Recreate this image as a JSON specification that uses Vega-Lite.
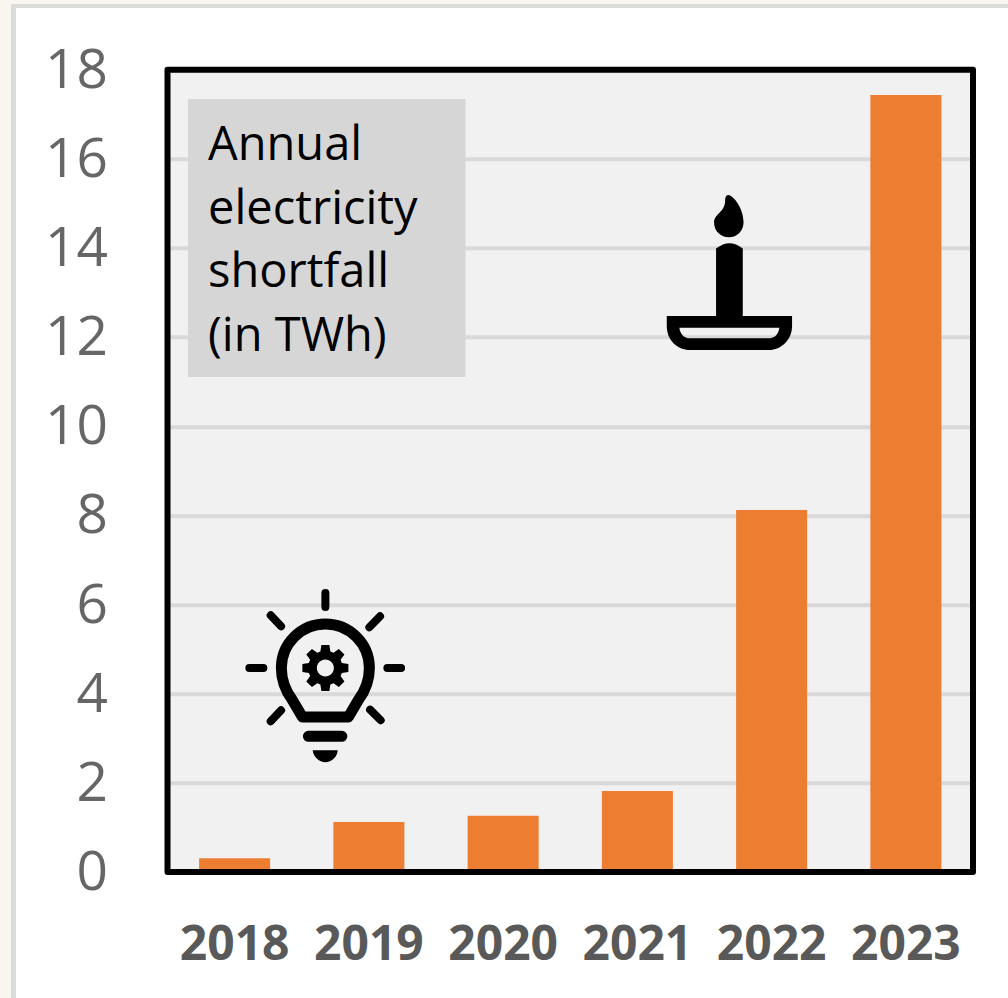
{
  "$schema": "https://vega.github.io/schema/vega-lite/v6.json",
  "width": 805.5,
  "height": 802.3,
  "autosize": "none",
  "padding": {"left": 167.5, "top": 69.7, "right": 35, "bottom": 126},
  "background": "#ffffff",
  "view": {"fill": "#f1f1f1", "stroke": null},
  "datasets": {
    "shortfall": [
      {"year": "2018", "twh": 0.31},
      {"year": "2019", "twh": 1.12},
      {"year": "2020", "twh": 1.26},
      {"year": "2021", "twh": 1.82},
      {"year": "2022", "twh": 8.12},
      {"year": "2023", "twh": 17.43}
    ],
    "edges": [
      {"part": "outer", "a": -1.2477, "b": -1.1657, "lo": -2.827, "hi": 19.565},
      {"part": "outer", "a": -1.2477, "b": 6.2607, "lo": 19.475, "hi": 19.565},
      {"part": "inner", "a": -1.1657, "b": -1.1285, "lo": -2.827, "hi": 19.475},
      {"part": "inner", "a": -1.1657, "b": 6.2607, "lo": 19.385, "hi": 19.475}
    ],
    "caption": [
      {"line": "Annual", "a": 0.3017, "v": 16.29},
      {"line": "electricity", "a": 0.3017, "v": 14.85},
      {"line": "shortfall", "a": 0.3017, "v": 13.44},
      {"line": "(in TWh)", "a": 0.3017, "v": 12.0}
    ]
  },
  "resolve": {"scale": {"x": "independent"}},
  "layer": [
    {
      "data": {"name": "edges"},
      "mark": {"type": "rect"},
      "encoding": {
        "x": {"field": "a", "type": "quantitative", "scale": {"domain": [0, 6]}, "axis": null},
        "x2": {"field": "b"},
        "y": {"field": "lo", "type": "quantitative", "scale": {"domain": [0, 18], "nice": false}},
        "y2": {"field": "hi"},
        "color": {"field": "part", "type": "nominal", "scale": {"domain": ["outer", "inner"], "range": ["#f9f6f0", "#dcdcdc"]}, "legend": null}
      }
    },
    {
      "data": {"name": "shortfall"},
      "mark": {"type": "bar", "color": "#ed7d31"},
      "encoding": {
        "x": {
          "field": "year",
          "type": "nominal",
          "scale": {"paddingInner": 0.471, "paddingOuter": 0.2355},
          "axis": {
            "title": null,
            "orient": "bottom",
            "domain": false,
            "ticks": false,
            "grid": false,
            "labelAngle": 0,
            "labelFont": "Open Sans",
            "labelFontWeight": "bold",
            "labelFontSize": 48,
            "labelColor": "#595959",
            "labelPadding": 49,
            "labelOverlap": false
          }
        },
        "y": {
          "field": "twh",
          "type": "quantitative",
          "scale": {"domain": [0, 18], "nice": false},
          "axis": {
            "title": null,
            "values": [0, 2, 4, 6, 8, 10, 12, 14, 16, 18],
            "domain": false,
            "ticks": false,
            "grid": true,
            "gridColor": "#d9d9d9",
            "gridWidth": 4,
            "labelFont": "Open Sans",
            "labelFontSize": 55,
            "labelColor": "#666666",
            "labelPadding": 60,
            "labelOffset": 0.5
          }
        }
      }
    },
    {
      "data": {"values": [{"a0": 0.1527, "a1": 2.2197, "v0": 11.106, "v1": 17.343}]},
      "mark": {"type": "rect", "color": "#d6d6d6"},
      "encoding": {
        "x": {"field": "a0", "type": "quantitative", "scale": {"domain": [0, 6]}, "axis": null},
        "x2": {"field": "a1"},
        "y": {"field": "v0", "type": "quantitative", "scale": {"domain": [0, 18], "nice": false}},
        "y2": {"field": "v1"}
      }
    },
    {
      "data": {"name": "caption"},
      "mark": {"type": "text", "align": "left", "baseline": "middle", "font": "Open Sans", "fontSize": 47, "color": "#000000"},
      "encoding": {
        "x": {"field": "a", "type": "quantitative", "scale": {"domain": [0, 6]}, "axis": null},
        "y": {"field": "v", "type": "quantitative", "scale": {"domain": [0, 18], "nice": false}},
        "text": {"field": "line"}
      }
    },
    {
      "description": "Candle on a dish; path units are pixels because size 4 gives a scale of 1",
      "data": {"values": [{"icon": "candle", "a": 4.183, "v": 13.507}]},
      "mark": {
        "type": "point",
        "filled": true,
        "color": "#000000",
        "opacity": 1,
        "size": 4,
        "shape": "M-1,-75C4,-75 14.5,-62 14.5,-48C14.5,-39 8,-32.7 0,-32.7C-8.5,-32.7 -15,-39 -15,-47.5C-15,-56 -4,-58 -4,-69C-4,-73 -3,-75 -1,-75ZM-13,47L-13,-21.5C-8,-25 -4,-26.7 0.3,-26.7C5,-26.7 9,-25 13.7,-21.5L13.7,47ZM-62.3,46L63,46L63,56C63,70 52,80 40,80L-39,80C-52,80 -62.3,70 -62.3,56ZM-49.7,57.7C-49,64 -45,68.3 -39,68.3L39,68.3C46,68.3 49.5,64 50.3,57.7Z"
      },
      "encoding": {
        "x": {"field": "a", "type": "quantitative", "scale": {"domain": [0, 6]}, "axis": null},
        "y": {"field": "v", "type": "quantitative", "scale": {"domain": [0, 18], "nice": false}}
      }
    },
    {
      "description": "Light bulb outline and base line, stroked",
      "data": {"values": [{"icon": "bulb", "a": 1.176, "v": 4.577}]},
      "mark": {
        "type": "point",
        "filled": false,
        "color": "#000000",
        "opacity": 1,
        "size": 4,
        "strokeWidth": 11,
        "strokeCap": "round",
        "strokeJoin": "round",
        "shape": "M-23,49L-33,32C-39,24 -44,12 -44,0A44,44 0 0 1 44,0C44,12 39,24 33,32L23,49ZM-17,68.3L16.5,68.3"
      },
      "encoding": {
        "x": {"field": "a", "type": "quantitative", "scale": {"domain": [0, 6]}, "axis": null},
        "y": {"field": "v", "type": "quantitative", "scale": {"domain": [0, 18], "nice": false}}
      }
    },
    {
      "description": "Rays around the bulb",
      "data": {"values": [{"icon": "rays", "a": 1.176, "v": 4.577}]},
      "mark": {
        "type": "point",
        "filled": false,
        "color": "#000000",
        "opacity": 1,
        "size": 4,
        "strokeWidth": 8,
        "strokeCap": "round",
        "shape": "M0,-75L0,-61M-76,0L-62,0M62,0L75.7,0M-54.7,-52.7L-44.3,-41.7M54.7,-51.7L44,-40.7M-54.7,53.3L-44.3,42.3M55.3,52.3L44.7,41.7"
      },
      "encoding": {
        "x": {"field": "a", "type": "quantitative", "scale": {"domain": [0, 6]}, "axis": null},
        "y": {"field": "v", "type": "quantitative", "scale": {"domain": [0, 18], "nice": false}}
      }
    },
    {
      "description": "Gear inside the bulb and the rounded foot below it",
      "data": {"values": [{"icon": "gear", "a": 1.176, "v": 4.577}]},
      "mark": {
        "type": "point",
        "filled": true,
        "color": "#000000",
        "opacity": 1,
        "size": 4,
        "shape": "M16.5,-5L23,-4L23,4L16.5,5L15.2,8.13L19.09,13.43L13.43,19.09L8.13,15.2L5,16.5L4,23L-4,23L-5,16.5L-8.13,15.2L-13.43,19.09L-19.09,13.43L-15.2,8.13L-16.5,5L-23,4L-23,-4L-16.5,-5L-15.2,-8.13L-19.09,-13.43L-13.43,-19.09L-8.13,-15.2L-5,-16.5L-4,-23L4,-23L5,-16.5L8.13,-15.2L13.43,-19.09L19.09,-13.43L15.2,-8.13ZM8.5,0A8.5,8.5 0 0 0 -8.5,0A8.5,8.5 0 0 0 8.5,0ZM-12.7,82.3L12.3,82.3C12,89 6,94.3 0,94.3C-6,94.3 -12,89 -12.7,82.3Z"
      },
      "encoding": {
        "x": {"field": "a", "type": "quantitative", "scale": {"domain": [0, 6]}, "axis": null},
        "y": {"field": "v", "type": "quantitative", "scale": {"domain": [0, 18], "nice": false}}
      }
    },
    {
      "description": "Black plot frame on top of the bars",
      "data": {"values": [{"a0": 0, "a1": 6, "v0": 0, "v1": 18}]},
      "mark": {"type": "rect", "fillOpacity": 0, "stroke": "#000000", "strokeWidth": 6, "strokeJoin": "round"},
      "encoding": {
        "x": {"field": "a0", "type": "quantitative", "scale": {"domain": [0, 6]}, "axis": null},
        "x2": {"field": "a1"},
        "y": {"field": "v0", "type": "quantitative", "scale": {"domain": [0, 18], "nice": false}},
        "y2": {"field": "v1"}
      }
    }
  ]
}
